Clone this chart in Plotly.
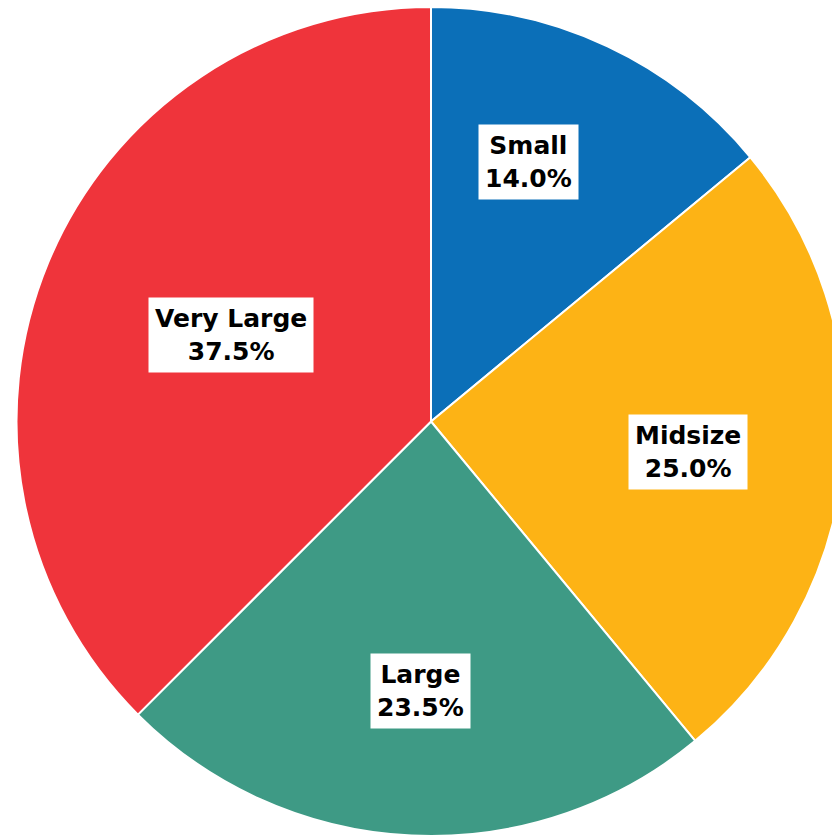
import numpy as np
import plotly.graph_objects as go

# Market share by vehicle size class
categories = ["Small", "Midsize", "Large", "Very Large"]
shares = [14.0, 25.0, 23.5, 37.5]
colors = ["#0B6FB8", "#FDB315", "#3E9A85", "#EF343B"]

# Figure geometry (pie is slightly wider than the visible page, so its right edge is clipped)
W, H = 862, 836
TOP = 7
# label placement: radial fraction of the pie radius and a small angular nudge (degrees)
label_r = [0.67, 0.625, 0.65, 0.525]
label_nudge = [-4.6, 1.4, -0.4, 1.0]

fig = go.Figure(
    go.Pie(
        labels=categories,
        values=shares,
        sort=False,
        direction="clockwise",
        rotation=0,
        marker=dict(colors=colors, line=dict(color="white", width=2)),
        textinfo="none",
        hoverinfo="label+percent",
        domain=dict(x=[0, 1], y=[0, 1 - TOP / H]),
        showlegend=False,
    )
)

# Labels in white boxes at each slice's mid-angle
cx, cy = W / 2, TOP + (H - TOP) / 2
radius = min(W, H - TOP) / 2
total = sum(shares)
cum = 0.0
for name, v, rf, nd in zip(categories, shares, label_r, label_nudge):
    mid = (cum + v / 2) / total * 360 + nd
    cum += v
    a = np.deg2rad(mid)
    px = cx + rf * radius * np.sin(a)
    py = cy - rf * radius * np.cos(a)
    fig.add_annotation(
        x=px / W,
        y=1 - py / H,
        xref="paper",
        yref="paper",
        xanchor="center",
        yanchor="middle",
        text=f"<b>{name}<br>{v:.1f}%</b>",
        showarrow=False,
        font=dict(family="DejaVu Sans", size=25, color="black"),
        bgcolor="white",
        borderpad=6,
        align="center",
    )

fig.update_layout(
    width=W,
    height=H,
    margin=dict(l=0, r=0, t=0, b=0),
    paper_bgcolor="white",
    plot_bgcolor="white",
)

fig.write_html(
    "out.html",
    post_script="document.documentElement.style.overflow='hidden';document.body.style.overflow='hidden';document.body.style.margin='0';",
)
